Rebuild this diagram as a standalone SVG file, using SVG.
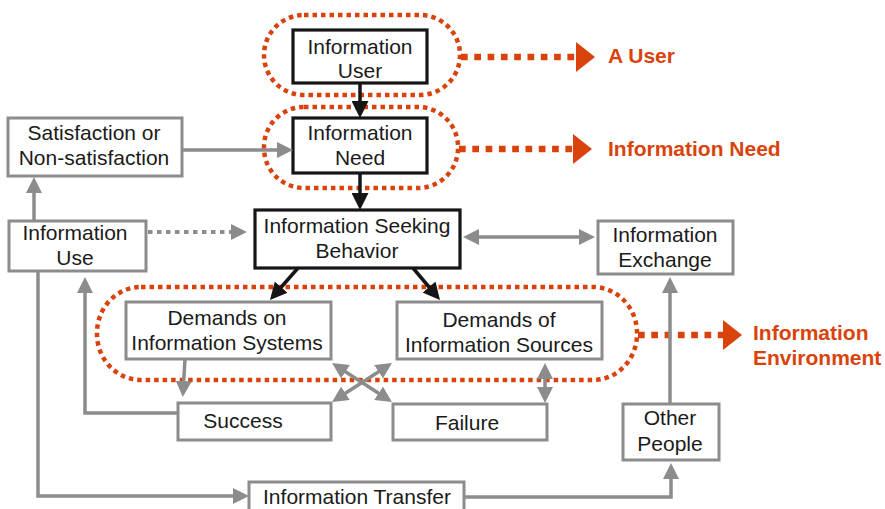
<svg xmlns="http://www.w3.org/2000/svg" width="885" height="509" viewBox="0 0 885 509">
<defs>
<style>
text{font-family:"Liberation Sans",Arial,Helvetica,sans-serif;font-size:21px;fill:#1a1a1a;text-anchor:middle}
.lbl{font-weight:bold;fill:#D9430B;text-anchor:start}
.bk{fill:#fff;stroke:#151515;stroke-width:3.2}
.gy{fill:#fff;stroke:#8c8c8c;stroke-width:3}
.cb{fill:none;stroke:#151515;stroke-width:3.5}
.cg{fill:none;stroke:#8c8c8c;stroke-width:3.5}
.cd{fill:none;stroke:#8c8c8c;stroke-width:4;stroke-dasharray:4.5 4.5}
.oe{fill:none;stroke:#D9430B;stroke-width:4.5;stroke-dasharray:4.5 4}
.ol{fill:none;stroke:#D9430B;stroke-width:6.5;stroke-dasharray:6.7 6.6}
.oh{fill:#D9430B}
</style>
<marker id="ag" markerUnits="userSpaceOnUse" markerWidth="16" markerHeight="16" viewBox="0 0 16 16" refX="12" refY="8" orient="auto-start-reverse"><path d="M0,0 L16,8 L0,16 z" fill="#8c8c8c"/></marker>
<marker id="ab" markerUnits="userSpaceOnUse" markerWidth="17" markerHeight="17" viewBox="0 0 17 17" refX="13" refY="8.5" orient="auto-start-reverse"><path d="M0,0 L17,8.5 L0,17 z" fill="#151515"/></marker>
</defs>
<rect width="885" height="509" fill="#fff"/>

<g id="scopes">
<g id="scope-user"><rect class="oe" x="264" y="15" width="196" height="80" rx="40" ry="40"/><path class="ol" d="M461,57 H577"/><polygon class="oh" points="576,42 595,57 576,72"/><text class="lbl" x="608" y="63">A User</text></g>
<g id="scope-need"><rect class="oe" x="264" y="107" width="194" height="81" rx="40" ry="40"/><path class="ol" d="M459,149 H574"/><polygon class="oh" points="573,134 592,149 573,164"/><text class="lbl" x="608" y="156">Information Need</text></g>
<g id="scope-env"><rect class="oe" x="97" y="287" width="540" height="93" rx="44" ry="46"/><path class="ol" d="M638,335 H724"/><polygon class="oh" points="723,320 742,335 723,350"/><text class="lbl" x="753" y="340">Information</text><text class="lbl" x="753" y="365">Environment</text></g>
</g>

<g id="user"><rect class="bk" x="293" y="30" width="134" height="53"/><text x="360" y="54">Information</text><text x="360" y="78">User</text></g>
<g id="need"><rect class="bk" x="293" y="118" width="134" height="55"/><text x="360" y="140">Information</text><text x="360" y="165">Need</text></g>
<g id="satisfaction"><rect class="gy" x="8" y="118" width="174" height="58"/><text x="94" y="140">Satisfaction or</text><text x="94" y="165">Non-satisfaction</text></g>
<g id="seeking"><rect class="bk" x="255" y="210" width="205" height="58"/><text x="357" y="233">Information Seeking</text><text x="357" y="258">Behavior</text></g>
<g id="use"><rect class="gy" x="9" y="221" width="137" height="50"/><text x="75" y="240">Information</text><text x="75" y="265">Use</text></g>
<g id="exchange"><rect class="gy" x="598" y="221" width="135" height="53"/><text x="665" y="242">Information</text><text x="665" y="267">Exchange</text></g>
<g id="demands-systems"><rect class="gy" x="126" y="302" width="205" height="57"/><text x="227" y="325">Demands on</text><text x="227" y="350">Information Systems</text></g>
<g id="demands-sources"><rect class="gy" x="397" y="302" width="205" height="57"/><text x="499" y="327">Demands of</text><text x="499" y="352">Information Sources</text></g>
<g id="success"><rect class="gy" x="178" y="403" width="153" height="37"/><text x="243" y="428">Success</text></g>
<g id="failure"><rect class="gy" x="393" y="404" width="154" height="36"/><text x="467" y="430">Failure</text></g>
<g id="other-people"><rect class="gy" x="623" y="404" width="96" height="56"/><text x="670" y="425">Other</text><text x="670" y="451">People</text></g>
<g id="transfer"><rect class="gy" x="249" y="482" width="215" height="40"/><text x="357" y="504">Information Transfer</text></g>

<g id="connectors">
<path class="cb" d="M360,83 V114" marker-end="url(#ab)"/>
<path class="cb" d="M360,173 V206" marker-end="url(#ab)"/>
<path class="cb" d="M298,268 L272.6,297" marker-end="url(#ab)"/>
<path class="cb" d="M413,268 L437.4,297" marker-end="url(#ab)"/>
<path class="cg" d="M182,150 H289" marker-end="url(#ag)"/>
<path class="cg" d="M34,221 V181" marker-end="url(#ag)"/>
<path class="cd" d="M148,232 H243" marker-end="url(#ag)"/>
<path class="cg" d="M467,237 H591" marker-start="url(#ag)" marker-end="url(#ag)"/>
<path class="cg" d="M38,271 V496 H245" marker-end="url(#ag)"/>
<path class="cg" d="M178,413 H85 V281" marker-end="url(#ag)"/>
<path class="cg" d="M185,359 L183,393" marker-end="url(#ag)"/>
<path class="cg" d="M335.4,365.2 L388.6,399.8" marker-start="url(#ag)" marker-end="url(#ag)"/>
<path class="cg" d="M335.4,399.8 L388.6,365.2" marker-start="url(#ag)" marker-end="url(#ag)"/>
<path class="cg" d="M545,367 V399" marker-start="url(#ag)" marker-end="url(#ag)"/>
<path class="cg" d="M464,497 H671 V467" marker-end="url(#ag)"/>
<path class="cg" d="M670,404 V281" marker-end="url(#ag)"/>
</g>
</svg>
